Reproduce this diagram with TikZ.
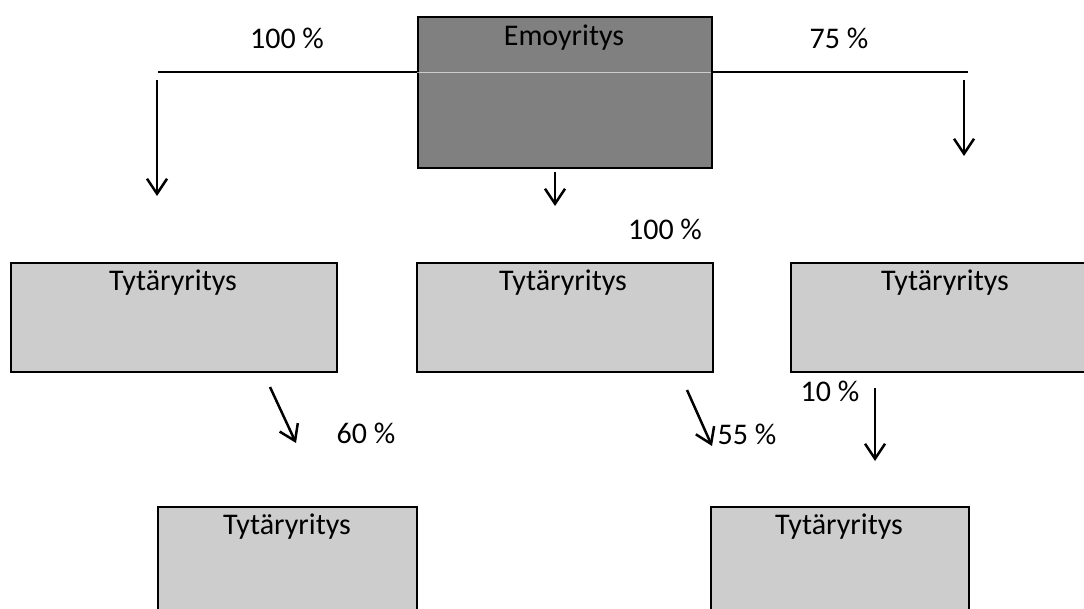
\documentclass[tikz,border=0pt]{standalone}
\usepackage{fontspec}
\setmainfont{Carlito}
\usetikzlibrary{arrows.meta}
\definecolor{darkfill}{HTML}{808080}
\definecolor{lightfill}{HTML}{CDCDCD}
\tikzset{
  emobox/.style={draw=black, line width=2.2pt, fill=darkfill, inner sep=0pt, anchor=north west},
  childbox/.style={draw=black, line width=1.6pt, fill=lightfill, inner sep=0pt, anchor=north west},
  boxtext/.style={font=\fontsize{30}{34}\selectfont, inner sep=0pt, anchor=center},
  pct/.style={font=\fontsize{30}{34}\selectfont, inner sep=0pt, anchor=center},
  hline/.style={line width=1.4pt, black},
  own/.style={line width=2.5pt, -{Straight Barb[length=15pt,width=20pt,line width=2.5pt]}},
}
\begin{document}
\begin{tikzpicture}[x=1pt,y=-1pt]
\useasboundingbox (0,0) rectangle (1084,609);
% boxes
\node[emobox, minimum width=294pt, minimum height=151pt] (emo) at (417,16) {};
\node[childbox, minimum width=326pt, minimum height=109pt] (t1) at (10,262) {};
\node[childbox, minimum width=296pt, minimum height=109pt] (t2) at (416,262) {};
\node[childbox, minimum width=300pt, minimum height=109pt] (t3) at (790,262) {};
\node[childbox, minimum width=259pt, minimum height=110pt] (t4) at (157,506) {};
\node[childbox, minimum width=258pt, minimum height=110pt] (t5) at (710,506) {};
% box texts
\node[boxtext] (emotext) at (564,38) {Emoyritys};
\node[boxtext] (t1text) at (173,283) {Tytäryritys};
\node[boxtext] (t2text) at (563,283) {Tytäryritys};
\node[boxtext] (t3text) at (945,283) {Tytäryritys};
\node[boxtext] (t4text) at (287,527) {Tytäryritys};
\node[boxtext] (t5text) at (839,527) {Tytäryritys};
% horizontal lines
\coordinate (lend) at (158,72);
\coordinate (rend) at (968,72);
\coordinate (emoL) at (417,72);
\coordinate (emoR) at (711,72);
\draw[hline] (emoL) -- (lend);
\draw[hline] (emoR) -- (rend);
\draw[white, line width=0.7pt, opacity=0.6] (emoL) -- (emoR);
% arrows
\coordinate (a1s) at (157,80);  \coordinate (a1e) at (157,196);
\coordinate (a2s) at (964,80);  \coordinate (a2e) at (964,156);
\coordinate (a3s) at (555,172); \coordinate (a3e) at (555,206);
\coordinate (a4s) at (270,387); \coordinate (a4e) at (296,443);
\coordinate (a5s) at (687,390); \coordinate (a5e) at (712,446);
\coordinate (a6s) at (875,388); \coordinate (a6e) at (875,461);
\draw[own] (a1s) -- (a1e);
\draw[own] (a2s) -- (a2e);
\draw[own] (a3s) -- (a3e);
\draw[own] (a4s) -- (a4e);
\draw[own] (a5s) -- (a5e);
\draw[own] (a6s) -- (a6e);
% percentages
\node[pct] (p1) at (287,38) {100 \%};
\node[pct] (p2) at (839,38) {75 \%};
\node[pct] (p3) at (665,229) {100 \%};
\node[pct] (p4) at (366,433) {60 \%};
\node[pct] (p5) at (747,434) {55 \%};
\node[pct] (p6) at (830,391) {10 \%};
\end{tikzpicture}
\end{document}
